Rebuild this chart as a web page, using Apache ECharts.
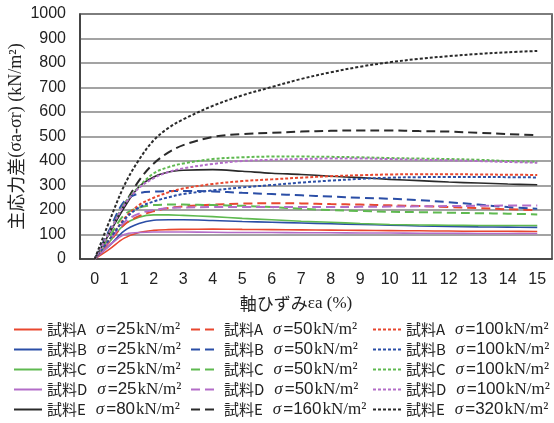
<!DOCTYPE html>
<html>
<head>
<meta charset="utf-8">
<script src="https://cdn.jsdelivr.net/npm/echarts@6/dist/echarts.min.js"></script>
<style>
  html, body { margin: 0; padding: 0; background: #fff; }
  #chart { width: 554px; height: 423px; }
</style>
</head>
<body>
<div id="chart"></div>
<script>
// strain (%) sample points
const strain = [0, 0.5, 1, 1.5, 2, 2.5, 3, 4, 5, 6, 7, 8, 9, 10, 11, 12, 13, 14, 15];
const xTicks = [0, 1, 2, 3, 4, 5, 6, 7, 8, 9, 10, 11, 12, 13, 14, 15];

// 主応力差 (kN/m2)
const A25 = [0, 40, 85, 108, 117, 120, 121, 122, 121, 120, 119, 118, 117, 116, 115, 114, 113, 113, 112];
const B25 = [0, 55, 115, 145, 158, 160, 160, 157, 153, 150, 147, 144, 141, 138, 135, 133, 131, 130, 129];
const C25 = [0, 70, 140, 170, 180, 180, 178, 173, 166, 160, 154, 150, 145, 141, 139, 138, 137, 137, 137];
const D25 = [0, 55, 100, 108, 110, 110, 110, 109, 108, 108, 107, 107, 106, 106, 105, 105, 104, 104, 104];
const E80 = [0, 105, 210, 295, 335, 355, 362, 365, 358, 350, 345, 338, 332, 325, 320, 314, 310, 306, 303];

const A50 = [0, 70, 140, 175, 195, 208, 215, 222, 226, 228, 227, 224, 222, 219, 216, 212, 208, 203, 200];
const B50 = [0, 120, 235, 268, 275, 277, 278, 276, 270, 265, 260, 255, 250, 246, 240, 232, 222, 212, 205];
const C50 = [0, 90, 180, 210, 220, 222, 222, 220, 217, 212, 205, 200, 196, 193, 191, 189, 187, 185, 182];
const D50 = [0, 75, 150, 185, 200, 208, 210, 212, 212, 212, 212, 212, 213, 214, 215, 216, 217, 218, 218];
const E160 = [0, 110, 220, 320, 390, 435, 465, 498, 510, 515, 520, 523, 525, 525, 522, 520, 515, 510, 505];

const A100 = [0, 80, 165, 220, 250, 272, 288, 306, 318, 325, 332, 338, 342, 345, 346, 346, 345, 344, 343];
const B100 = [0, 80, 160, 210, 235, 252, 265, 280, 292, 302, 312, 320, 327, 332, 334, 335, 335, 334, 333];
const C100 = [0, 110, 225, 295, 350, 375, 390, 408, 415, 418, 418, 417, 415, 412, 410, 408, 405, 400, 397];
const D100 = [0, 110, 220, 290, 330, 355, 370, 388, 400, 405, 408, 410, 410, 408, 405, 403, 400, 396, 393];
const E320 = [0, 155, 300, 405, 485, 535, 570, 625, 668, 702, 735, 762, 785, 803, 817, 828, 837, 844, 849];

const samples = ['A', 'B', 'C', 'D', 'E'];
const colors = { A: '#e8472f', B: '#2b4ea6', C: '#5fb950', D: '#b36cc8', E: '#2a2a2a' };

// one column per line style
const columns = [
  { press: ['25', '25', '25', '25', '80'], data: [A25, B25, C25, D25, E80], dash: 'solid', width: 1.6 },
  { press: ['50', '50', '50', '50', '160'], data: [A50, B50, C50, D50, E160], dash: [9, 5], width: 2 },
  { press: ['100', '100', '100', '100', '320'], data: [A100, B100, C100, D100, E320], dash: [3, 2], width: 2 }
];

const series = [];
const legends = [];
const legendLeft = [13, 190, 372];

columns.forEach((col, ci) => {
  const names = [];
  samples.forEach((s, si) => {
    const name = '試料' + s + ' σ=' + col.press[si] + 'kN/m²';
    names.push(name);
    series.push({
      name: name,
      type: 'line',
      symbol: 'none',
      smooth: 0.35,
      data: strain.map((x, i) => [x, col.data[si][i]]),
      lineStyle: { color: colors[s], width: col.width, type: col.dash },
      itemStyle: { color: colors[s] },
      z: 3
    });
  });
  legends.push({
    orient: 'vertical',
    left: legendLeft[ci],
    top: 321,
    height: 200,
    padding: 0,
    itemWidth: 28,
    itemHeight: 14,
    itemGap: 3,
    selectedMode: false,
    itemStyle: { opacity: 0 },
    data: names,
    formatter: function (name) {
      const m = name.match(/^(試料.) σ=(\d+)(kN\/m²)$/);
      return '{j|' + m[1] + '}{g|σ}{n|=' + m[2] + '}{u|' + m[3] + '}';
    },
    textStyle: {
      color: '#222',
      lineHeight: 14,
      rich: {
        j: { fontFamily: 'Noto Sans CJK JP', fontSize: 15, lineHeight: 14, color: '#222', padding: [0, 10, 0, 0] },
        g: { fontFamily: 'Liberation Serif', fontStyle: 'italic', fontSize: 17, lineHeight: 14, color: '#222', padding: [0, 2, 0, 0] },
        n: { fontFamily: 'Liberation Sans', fontSize: 17, lineHeight: 14, color: '#222', padding: [0, 1, 0, 0] },
        u: { fontFamily: 'Liberation Serif', fontSize: 17, lineHeight: 14, color: '#222' }
      }
    }
  });
});

const chart = echarts.init(document.getElementById('chart'));
chart.setOption({
  animation: false,
  backgroundColor: '#fff',
  grid: {
    left: 80,
    right: 2,
    top: 14,
    bottom: 164,
    containLabel: false,
    outerBoundsMode: 'none',
    show: true,
    borderColor: '#3a3a3a',
    borderWidth: 1.5
  },
  legend: legends,
  xAxis: {
    type: 'value',
    min: -0.5,
    max: 15.5,
    name: '{j|軸ひずみ}{s|εa (%)}',
    nameLocation: 'middle',
    nameGap: 36,
    nameMoveOverlap: false,
    nameTextStyle: {
      padding: [0, 40, 0, 0],
      rich: {
        j: { fontFamily: 'Noto Sans CJK JP', fontSize: 17, color: '#222' },
        s: { fontFamily: 'Liberation Serif', fontSize: 17, color: '#222' }
      }
    },
    axisLine: { show: true, onZero: false, lineStyle: { color: '#3a3a3a', width: 1.5 } },
    axisTick: { show: false },
    splitLine: { show: false },
    axisLabel: {
      customValues: xTicks,
      margin: 13,
      fontSize: 16,
      fontFamily: 'Liberation Sans',
      color: '#222'
    }
  },
  yAxis: {
    type: 'value',
    min: 0,
    max: 1000,
    interval: 100,
    name: '{j|主応力差}{s|(σa-σr) (kN/m²)}',
    nameLocation: 'middle',
    nameGap: 55,
    nameMoveOverlap: false,
    nameTextStyle: {
      rich: {
        j: { fontFamily: 'Noto Sans CJK JP', fontSize: 18, lineHeight: 18, color: '#222' },
        s: { fontFamily: 'Liberation Serif', fontSize: 18, lineHeight: 18, color: '#222' }
      }
    },
    axisLine: { show: true, onZero: false, lineStyle: { color: '#3a3a3a', width: 1.5 } },
    axisTick: { show: false },
    splitLine: { show: true, lineStyle: { color: '#858585', width: 1.5 } },
    axisLabel: {
      margin: 14,
      fontSize: 16,
      fontFamily: 'Liberation Sans',
      color: '#222',
      formatter: function (v) { return String(v); }
    }
  },
  series: series
});
</script>
</body>
</html>
